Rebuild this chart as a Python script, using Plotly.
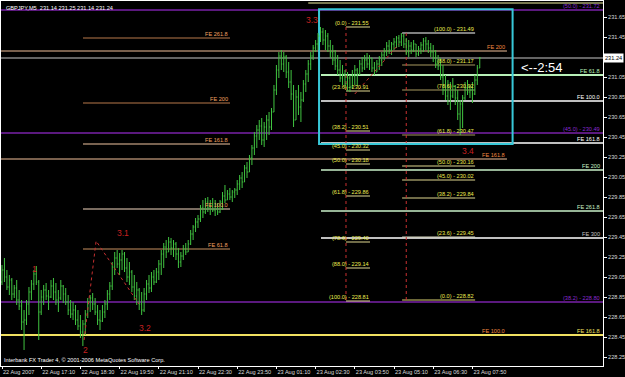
import plotly.graph_objects as go

# ---------------- data ----------------
opens = [229.00, 229.12, 229.05, 228.95, 229.02, 228.88, 228.94, 228.82, 228.76, 228.60,
         228.62, 228.78, 228.90, 228.98, 229.08, 229.00, 228.70, 228.85, 228.92, 228.86,
         228.85, 228.96, 228.90, 228.82, 228.84, 228.96, 228.88, 228.80, 228.72, 228.68,
         228.72, 228.62, 228.56, 228.50, 228.58, 228.68, 228.80, 228.84, 228.78, 228.70,
         228.62, 228.61, 228.70, 228.78, 228.88, 228.96, 229.15, 229.24, 229.18, 229.22,
         229.28, 229.14, 229.05, 229.10, 228.95, 228.86, 228.92, 228.78, 228.72, 228.88,
         228.98, 228.94, 229.05, 229.00, 229.10, 229.18, 229.28, 229.35, 229.30, 229.40,
         229.34, 229.38, 229.28, 229.20, 229.26, 229.33, 229.30, 229.38, 229.48, 229.55,
         229.60, 229.63, 229.74, 229.70, 229.80, 229.74, 229.78, 229.72, 229.78, 229.70,
         229.80, 229.86, 229.82, 229.88, 229.85, 229.90, 229.92, 229.98, 230.04, 230.00,
         230.14, 230.10, 230.24, 230.34, 230.46, 230.52, 230.56, 230.42, 230.55, 230.62,
         230.55, 230.70, 230.92, 231.12, 231.26, 231.18, 231.25, 231.10, 231.00, 230.88,
         230.62, 230.85, 230.75, 230.82, 230.98, 231.08, 231.18, 231.26, 231.34, 231.38,
         231.46, 231.50, 231.42, 231.46, 231.36, 231.30, 231.22, 231.16, 231.12, 231.04,
         231.08, 230.98, 231.04, 230.95, 231.06, 231.12, 231.08, 231.18, 231.14, 231.22,
         231.18, 231.24, 231.14, 231.10, 231.18, 231.22, 231.27, 231.30, 231.36, 231.32,
         231.38, 231.40, 231.44, 231.40, 231.46, 231.38, 231.30, 231.36, 231.32, 231.38,
         231.28, 231.33, 231.37, 231.41, 231.38, 231.34, 231.30, 231.24, 231.18, 231.16,
         231.05, 230.92, 230.86, 230.95, 230.86, 230.96, 230.84, 230.68, 230.78, 230.84,
         230.94, 230.90, 230.92, 230.88, 231.02, 231.14]
highs = [229.17, 229.24, 229.12, 229.07, 229.04, 228.97, 229.02, 228.92, 228.82, 228.72,
         228.82, 228.95, 229.02, 229.12, 229.16, 229.02, 228.92, 228.97, 228.99, 228.92,
         229.02, 229.04, 228.99, 228.92, 229.02, 228.97, 228.94, 228.87, 228.82, 228.80,
         228.77, 228.72, 228.67, 228.62, 228.72, 228.84, 228.87, 228.89, 228.84, 228.77,
         228.72, 228.77, 228.82, 228.92, 229.00, 229.20, 229.30, 229.32, 229.29, 229.32,
         229.30, 229.24, 229.20, 229.12, 229.07, 229.00, 228.94, 228.90, 228.94, 229.02,
         229.07, 229.10, 229.12, 229.14, 229.22, 229.32, 229.39, 229.42, 229.45, 229.44,
         229.42, 229.40, 229.34, 229.30, 229.37, 229.39, 229.42, 229.52, 229.57, 229.64,
         229.67, 229.77, 229.82, 229.84, 229.85, 229.82, 229.84, 229.82, 229.79, 229.82,
         229.90, 229.97, 229.92, 229.94, 229.92, 229.94, 230.02, 230.07, 230.10, 230.17,
         230.20, 230.27, 230.37, 230.50, 230.57, 230.62, 230.64, 230.60, 230.67, 230.70,
         230.74, 230.97, 231.17, 231.30, 231.32, 231.30, 231.27, 231.20, 231.12, 230.97,
         230.92, 230.97, 230.90, 231.02, 231.12, 231.22, 231.30, 231.37, 231.42, 231.49,
         231.55, 231.54, 231.52, 231.49, 231.42, 231.37, 231.32, 231.27, 231.22, 231.17,
         231.12, 231.10, 231.07, 231.12, 231.17, 231.14, 231.22, 231.25, 231.27, 231.29,
         231.27, 231.24, 231.20, 231.22, 231.26, 231.30, 231.34, 231.40, 231.42, 231.40,
         231.44, 231.46, 231.47, 231.49, 231.48, 231.44, 231.42, 231.40, 231.42, 231.38,
         231.36, 231.40, 231.44, 231.45, 231.42, 231.39, 231.37, 231.32, 231.27, 231.24,
         231.17, 231.07, 231.02, 231.00, 231.04, 230.97, 230.92, 230.82, 230.87, 231.00,
         231.02, 230.97, 231.00, 231.07, 231.17, 231.25]
lows = [228.97, 229.00, 228.92, 228.87, 228.82, 228.84, 228.77, 228.72, 228.52, 228.32,
        228.57, 228.67, 228.82, 228.92, 228.97, 228.42, 228.67, 228.77, 228.82, 228.72,
        228.84, 228.82, 228.77, 228.70, 228.82, 228.79, 228.77, 228.67, 228.64, 228.62,
        228.57, 228.52, 228.44, 228.36, 228.47, 228.64, 228.70, 228.72, 228.67, 228.57,
        228.52, 228.60, 228.64, 228.72, 228.82, 228.92, 229.07, 229.14, 229.07, 229.12,
        229.10, 229.00, 228.97, 228.90, 228.82, 228.77, 228.72, 228.67, 228.70, 228.82,
        228.89, 228.90, 228.97, 228.99, 229.02, 229.07, 229.14, 229.24, 229.30, 229.27,
        229.25, 229.22, 229.14, 229.15, 229.22, 229.27, 229.30, 229.37, 229.42, 229.50,
        229.54, 229.60, 229.64, 229.68, 229.70, 229.67, 229.70, 229.66, 229.67, 229.69,
        229.72, 229.79, 229.82, 229.82, 229.80, 229.84, 229.87, 229.92, 229.94, 230.00,
        230.04, 230.10, 230.17, 230.27, 230.34, 230.42, 230.37, 230.35, 230.42, 230.47,
        230.52, 230.70, 230.87, 231.04, 231.12, 231.10, 231.04, 230.94, 230.82, 230.55,
        230.62, 230.67, 230.60, 230.80, 230.90, 231.00, 231.12, 231.22, 231.30, 231.32,
        231.40, 231.37, 231.32, 231.30, 231.24, 231.17, 231.12, 231.07, 231.00, 230.97,
        230.94, 230.91, 230.90, 230.94, 230.97, 230.96, 231.07, 231.10, 231.12, 231.14,
        231.12, 231.10, 231.07, 231.10, 231.12, 231.16, 231.22, 231.26, 231.28, 231.27,
        231.32, 231.34, 231.35, 231.36, 231.34, 231.27, 231.25, 231.28, 231.30, 231.25,
        231.26, 231.28, 231.30, 231.32, 231.29, 231.25, 231.20, 231.14, 231.12, 231.02,
        230.87, 230.82, 230.77, 230.72, 230.84, 230.77, 230.62, 230.47, 230.54, 230.82,
        230.87, 230.84, 230.79, 230.87, 230.97, 231.14]
closes = [229.12, 229.05, 228.95, 229.02, 228.88, 228.94, 228.82, 228.76, 228.60, 228.62,
          228.78, 228.90, 228.98, 229.08, 229.00, 228.70, 228.85, 228.92, 228.86, 228.85,
          228.96, 228.90, 228.82, 228.84, 228.96, 228.88, 228.80, 228.72, 228.68, 228.72,
          228.62, 228.56, 228.50, 228.58, 228.68, 228.80, 228.84, 228.78, 228.70, 228.62,
          228.61, 228.70, 228.78, 228.88, 228.96, 229.15, 229.24, 229.18, 229.22, 229.28,
          229.14, 229.05, 229.10, 228.95, 228.86, 228.92, 228.78, 228.72, 228.88, 228.98,
          228.94, 229.05, 229.00, 229.10, 229.18, 229.28, 229.35, 229.30, 229.40, 229.34,
          229.38, 229.28, 229.20, 229.26, 229.33, 229.30, 229.38, 229.48, 229.55, 229.60,
          229.63, 229.74, 229.70, 229.80, 229.74, 229.78, 229.72, 229.78, 229.70, 229.80,
          229.86, 229.82, 229.88, 229.85, 229.90, 229.92, 229.98, 230.04, 230.00, 230.14,
          230.10, 230.24, 230.34, 230.46, 230.52, 230.56, 230.42, 230.55, 230.62, 230.55,
          230.70, 230.92, 231.12, 231.26, 231.18, 231.25, 231.10, 231.00, 230.88, 230.62,
          230.85, 230.75, 230.82, 230.98, 231.08, 231.18, 231.26, 231.34, 231.38, 231.46,
          231.50, 231.42, 231.46, 231.36, 231.30, 231.22, 231.16, 231.12, 231.04, 231.08,
          230.98, 231.04, 230.95, 231.06, 231.12, 231.08, 231.18, 231.14, 231.22, 231.18,
          231.24, 231.14, 231.10, 231.18, 231.22, 231.27, 231.30, 231.36, 231.32, 231.38,
          231.40, 231.44, 231.40, 231.46, 231.38, 231.30, 231.36, 231.32, 231.38, 231.28,
          231.33, 231.37, 231.41, 231.38, 231.34, 231.30, 231.24, 231.18, 231.16, 231.05,
          230.92, 230.86, 230.95, 230.86, 230.96, 230.84, 230.68, 230.78, 230.84, 230.94,
          230.90, 230.92, 230.88, 231.02, 231.14, 231.24]

time_tick_bars = [0, 16, 32, 48, 64, 80, 96, 112, 128, 144, 160, 176, 192]
time_tick_labels = ["22 Aug 2007", "22 Aug 17:10", "22 Aug 18:30", "22 Aug 19:50",
                    "22 Aug 21:10", "22 Aug 22:30", "22 Aug 23:50", "23 Aug 01:10",
                    "23 Aug 02:30", "23 Aug 03:50", "23 Aug 05:10", "23 Aug 06:30",
                    "23 Aug 07:50"]
price_ticks = [231.65, 231.45, 231.05, 230.85, 230.65, 230.45, 230.25, 230.05, 229.85,
               229.65, 229.45, 229.25, 229.05, 228.85, 228.65, 228.45, 228.25]

# fibonacci retracement (left, 3.3 high to low)
fib_left_pct = ["0.0", "23.6", "38.2", "45.0", "50.0", "61.8", "78.6", "88.0", "100.0"]
fib_left_price = [231.55, 230.91, 230.51, 230.32, 230.18, 229.86, 229.40, 229.14, 228.81]
# fibonacci retracement (right)
fib_right_pct = ["100.0", "88.0", "78.6", "61.8", "50.0", "45.0", "38.2", "23.6", "0.0"]
fib_right_price = [231.49, 231.17, 230.92, 230.47, 230.16, 230.02, 229.84, 229.45, 228.82]

# fibo expansion short lines (left)
fe_left_names = ["FE 261.8", "FE 200", "FE 161.8", "FE 100.0", "FE 61.8"]
fe_left_price = [231.44, 230.79, 230.38, 229.73, 229.33]
# fibo expansion lines right of the box
fe_right_names = ["FE 61.8", "FE 100.0", "FE 161.8", "FE 200", "FE 261.8", "FE 300"]
fe_right_price = [231.07, 230.81, 230.39, 230.12, 229.71, 229.44]
# orange expansion (to middle)
fe_mid_names = ["FE 200", "FE 161.8", "FE 100.0"]
fe_mid_price = [231.31, 230.23, 228.47]
# purple retracement lines (full width)
purple_pct = ["50.0", "45.0", "38.2"]
purple_price = [231.72, 230.49, 228.80]
# yellow expansion line
fe_yellow_name = "FE 161.8"
fe_yellow_price = 228.47
# pale yellow line at the very top (right part)
top_line_price = 231.79

wave_labels = ["1", "2", "3.1", "3.2", "3.3", "3.4"]
wave_bar = [13.1, 33.9, 49.4, 58.2, 126.7, 190.2]
wave_price = [229.13, 228.32, 229.49, 228.54, 231.62, 230.31]

# dotted trend segments of the expansion tools (bar, price)
fe1_pts_bar = [33.5, 38.4, 55.9]
fe1_pts_price = [228.42, 229.41, 228.78]
fe2_pts_bar = [144.0, 162.0]
fe2_pts_price = [230.88, 231.38]

symbol_text = "GBPJPY,M5  231.14 231.25 231.14 231.24"
bid = 231.24
countdown = "<--2:54"
footer = "Interbank FX Trader 4, \u00a9 2001-2006 MetaQuotes Software Corp."

# ---------------- figure ----------------
XMIN, XMAX = -0.41, 245.3
YMIN, YMAX = 228.16, 231.81
FONT = "Liberation Sans"
SMALL = 5.6

fig = go.Figure()
fig.add_trace(go.Ohlc(
    x=list(range(len(opens))), open=opens, high=highs, low=lows, close=closes,
    increasing=dict(line=dict(color="#40c440", width=1)),
    decreasing=dict(line=dict(color="#40c440", width=1)),
    tickwidth=0.35, hoverinfo="skip"))

shapes = []
ann = []


def hline(p, x0, x1, color, width=1, dash="solid"):
    shapes.append(dict(type="line", xref="x", yref="y", x0=x0, x1=x1, y0=p, y1=p,
                       line=dict(color=color, width=width, dash=dash), layer="below"))


def label(text, x, p, color, anchor="right", xref="x", size=SMALL, yshift=0):
    ann.append(dict(text=text, x=x, y=p, xref=xref, yref="y", showarrow=False,
                    xanchor=anchor, yanchor="bottom", yshift=yshift, borderpad=0,
                    font=dict(family=FONT, size=size, color=color)))


# full-width / mid lines
hline(top_line_price, 125.0, XMAX, "#f0f0a0", 1)
hline(fe_mid_price[0], XMIN, 206.1, "#f2c09a", 1)
hline(fe_mid_price[1], XMIN, 206.1, "#f2c09a", 1)
hline(fe_mid_price[2], XMIN, 206.1, "#e09050", 1)
hline(fe_yellow_price, XMIN, XMAX, "#f0e060", 2)
hline(bid, XMIN, XMAX, "#c8c8c8", 1)
for p in purple_price:
    hline(p, XMIN, XMAX, "#7a22a8", 1.5)

# left FE short lines
fe_left_colors = ["#b8784a", "#b8784a", "#f0c4a0", "#f4d8c0", "#c89060"]
for n, p, c in zip(fe_left_names, fe_left_price, fe_left_colors):
    hline(p, 33.06, 93.06, c, 1.2)
    label(n, 92.7, p, "#f0a060")

# right FE lines
fe_right_colors = ["#b8f0b8", "#ffffff", "#ffffff", "#c8f0c8", "#c8f0c8", "#c0c0c0"]
fe_right_widths = [2, 1.5, 1.5, 1.5, 1.5, 2]
for n, p, c, w in zip(fe_right_names, fe_right_price, fe_right_colors, fe_right_widths):
    hline(p, 130.2, XMAX, c, w)
    label(n, 1.0 - 0.003, p, c, xref="paper")

# middle labels
for n, p in zip(fe_mid_names, fe_mid_price):
    label(n, 205.7, p, "#f08a40")
label(fe_yellow_name, 0.997, fe_yellow_price, "#f0e060", xref="paper")
for pc, p in zip(purple_pct, purple_price):
    label("(%s) - %.2f" % (pc, p), 0.997, p, "#8a2ad0", xref="paper")

# fib retracements
for pc, p in zip(fib_left_pct, fib_left_price):
    hline(p, 140.4, 150.2, "#e0d890", 1)
    label("(%s) - %.2f" % (pc, p), 150.2, p, "#ecec50")
fr_colors = ["#ffffff", "#a89a60", "#a89a60", "#a89a60", "#e0d890", "#e0d890",
             "#e0d890", "#d8d8c0", "#d8d070"]
for pc, p, c in zip(fib_right_pct, fib_right_price, fr_colors):
    hline(p, 163.3, 193.1, c, 1.2)
    label("(%s) - %.2f" % (pc, p), 193.1, p, "#ecec50")

# red dotted fib verticals
shapes.append(dict(type="line", xref="x", yref="y", x0=140.4, x1=140.4,
                   y0=fib_left_price[0], y1=fib_left_price[-1],
                   line=dict(color="#c83030", width=1, dash="dot"), layer="below"))
shapes.append(dict(type="line", xref="x", yref="y", x0=165.0, x1=165.0,
                   y0=fib_right_price[0], y1=fib_right_price[-1],
                   line=dict(color="#c83030", width=1, dash="dot"), layer="below"))

# cyan box
shapes.append(dict(type="rect", xref="x", yref="y", x0=129.4, x1=208.4, y0=230.38, y1=231.727,
                   line=dict(color="#38c8d8", width=2), fillcolor="rgba(0,0,0,0)", layer="below"))

# dotted expansion trend lines
fig.add_trace(go.Scatter(x=fe1_pts_bar, y=fe1_pts_price, mode="lines",
                         line=dict(color="#c83030", width=1, dash="dot"), hoverinfo="skip"))
fig.add_trace(go.Scatter(x=fe2_pts_bar, y=fe2_pts_price, mode="lines",
                         line=dict(color="#c83030", width=1, dash="dot"), hoverinfo="skip"))

# wave labels
for t, b, p in zip(wave_labels, wave_bar, wave_price):
    ann.append(dict(text=t, x=b, y=p, xref="x", yref="y", showarrow=False,
                    xanchor="center", yanchor="middle",
                    font=dict(family=FONT, size=8.5, color="#c82020")))

# texts
ann.append(dict(text=symbol_text, x=0.006, y=0.993, xref="paper", yref="paper", showarrow=False,
                xanchor="left", yanchor="top", borderpad=0,
                font=dict(family=FONT, size=SMALL, color="#ffffff")))
ann.append(dict(text=footer, x=0.004, y=0.006, xref="paper", yref="paper", showarrow=False,
                xanchor="left", yanchor="bottom", borderpad=0,
                font=dict(family=FONT, size=SMALL, color="#ffffff")))
ann.append(dict(text=countdown, x=208.4 + 2.5, y=231.15, xref="x", yref="y", showarrow=False,
                xanchor="left", yanchor="middle",
                font=dict(family=FONT, size=13, color="#ffffff")))
ann.append(dict(text="%.2f" % bid, x=1.0, y=bid, xref="paper", yref="y", showarrow=False,
                xanchor="left", yanchor="middle", bgcolor="#ffffff", borderpad=1,
                font=dict(family=FONT, size=SMALL, color="#000000")))

fig.update_layout(
    template="none",
    width=625, height=377, margin=dict(l=1, r=22, t=1, b=11, autoexpand=False),
    paper_bgcolor="#000000", plot_bgcolor="#000000", showlegend=False,
    shapes=shapes, annotations=ann, hovermode=False,
    xaxis=dict(range=[XMIN, XMAX], rangeslider=dict(visible=False),
               tickvals=time_tick_bars, ticktext=time_tick_labels, tickangle=0,
               ticks="outside", ticklen=2, tickcolor="#ffffff",
               ticklabelposition="outside right", automargin=False,
               showgrid=False, zeroline=False, showline=True, linecolor="#ffffff",
               linewidth=1, mirror=True,
               tickfont=dict(family=FONT, size=SMALL, color="#dcdcdc")),
    yaxis=dict(range=[YMIN, YMAX], side="right", tickvals=price_ticks,
               ticktext=["%.2f" % v for v in price_ticks], automargin=False,
               ticks="outside", ticklen=3, tickcolor="#ffffff",
               showgrid=False, zeroline=False, showline=True, linecolor="#ffffff",
               linewidth=1, mirror=True,
               tickfont=dict(family=FONT, size=SMALL, color="#dcdcdc")),
)

fig.write_html("out.html", config={"displayModeBar": False})
